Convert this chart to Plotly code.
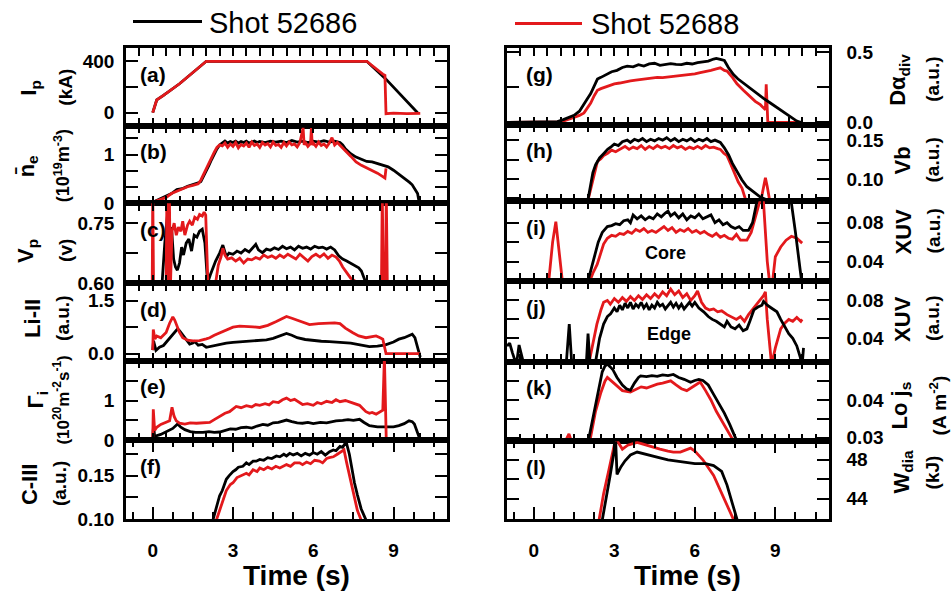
import plotly.graph_objects as go

# ---------------- data ----------------
# (a) plasma current Ip (kA)
ta_blk = [0, 0.15, 0.4, 1.0, 2.0, 8.0, 8.7, 9.9]
ia_blk = [0, 100, 135, 225, 400, 400, 265, 0]
ta_red = [0, 0.15, 0.4, 1.0, 2.0, 8.0, 8.6, 8.68, 8.72, 9.0, 9.5, 10.0]
ia_red = [0, 100, 135, 225, 400, 400, 300, 290, -8, -4, -8, -5]

# (b) line averaged density (1e19 m^-3)
tb_blk = [0.0, 0.1, 0.3, 0.5, 0.7, 0.9, 1.1, 1.3, 1.5, 1.7, 1.8, 1.9, 2.0, 2.1, 2.2, 2.3, 2.4, 2.5,
          2.6, 2.7, 2.8, 2.9, 3.0, 3.1, 3.2, 3.3, 3.4, 3.5, 3.6, 3.7, 3.8, 3.9, 4.0, 4.2, 4.4, 4.6,
          4.8, 5.0, 5.2, 5.4, 5.6, 5.8, 6.0, 6.2, 6.4, 6.6, 6.8, 7.0, 7.1, 7.2, 7.4, 7.6, 7.8, 8.0,
          8.2, 8.4, 8.6, 8.8, 9.0, 9.2, 9.4, 9.6, 9.7, 9.8, 9.9, 9.95, 10.0]
nb_blk = [0.02, 0.05, 0.1, 0.15, 0.2, 0.28, 0.3, 0.35, 0.38, 0.42, 0.45, 0.55, 0.65, 0.78, 0.9, 1.02, 1.12, 1.2,
          1.25, 1.28, 1.24, 1.27, 1.25, 1.28, 1.24, 1.27, 1.25, 1.28, 1.24, 1.26, 1.28, 1.25, 1.27, 1.25, 1.28, 1.26,
          1.28, 1.25, 1.29, 1.26, 1.28, 1.25, 1.28, 1.26, 1.29, 1.26, 1.28, 1.25, 1.2, 1.12, 1.02, 0.95, 0.9, 0.86,
          0.85, 0.82, 0.79, 0.75, 0.68, 0.6, 0.52, 0.43, 0.38, 0.3, 0.2, 0.05, 0.0]
tb_red = [0.0, 0.1, 0.3, 0.5, 0.7, 0.9, 1.1, 1.3, 1.5, 1.7, 1.8, 1.9, 2.0, 2.1, 2.2, 2.3, 2.4, 2.5,
          2.6, 2.7, 2.8, 2.9, 3.0, 3.1, 3.2, 3.3, 3.4, 3.5, 3.6, 3.7, 3.8, 3.9, 4.0, 4.1, 4.2, 4.3,
          4.4, 4.5, 4.6, 4.7, 4.8, 4.9, 5.0, 5.1, 5.2, 5.3, 5.4, 5.5, 5.62, 5.66, 5.7, 5.8, 5.9, 5.93,
          5.96, 6.0, 6.1, 6.2, 6.3, 6.4, 6.5, 6.6, 6.7, 6.8, 6.9, 7.0, 7.1, 7.2, 7.4, 7.6, 7.8, 8.0,
          8.2, 8.4, 8.6, 8.68, 8.72]
nb_red = [0.0, 0.04, 0.08, 0.12, 0.2, 0.25, 0.3, 0.34, 0.37, 0.4, 0.48, 0.6, 0.7, 0.82, 0.95, 1.05, 1.15, 1.2,
          1.18, 1.24, 1.15, 1.22, 1.17, 1.25, 1.14, 1.21, 1.18, 1.24, 1.15, 1.26, 1.19, 1.22, 1.15, 1.25, 1.2, 1.23,
          1.16, 1.26, 1.19, 1.21, 1.15, 1.25, 1.18, 1.26, 1.2, 1.22, 1.16, 1.25, 1.55, 1.2, 1.26, 1.17, 1.23, 1.55,
          1.2, 1.24, 1.17, 1.26, 1.19, 1.22, 1.16, 1.24, 1.35, 1.2, 1.25, 1.2, 1.15, 1.08, 0.97, 0.85, 0.78, 0.73,
          0.68, 0.62, 0.55, 0.52, 0.72]

# (c) Vp (V)
tc_blk = [0.35, 0.45, 0.55, 0.62, 0.7, 0.78, 0.85, 0.92, 1.0, 1.08, 1.15, 1.25, 1.35, 1.45, 1.55, 1.65, 1.75,
          1.85, 1.95, 2.05, 2.15, 2.25, 2.35, 2.5, 2.62, 2.75, 2.85, 3.0, 3.15, 3.3, 3.45, 3.6, 3.75, 3.85,
          3.95, 4.1, 4.25, 4.4, 4.55, 4.7, 4.85, 5.0, 5.15, 5.3, 5.45, 5.6, 5.75, 5.9, 6.05, 6.2, 6.35, 6.5,
          6.65, 6.8, 6.95, 7.1, 7.25, 7.4, 7.55, 7.7, 7.8, 7.9, 7.97]
vc_blk = [0.6, 0.7, 0.77, 0.7, 0.74, 0.66, 0.64, 0.632, 0.65, 0.69, 0.67, 0.7, 0.71, 0.68, 0.72, 0.715, 0.73,
          0.735, 0.7, 0.6, 0.62, 0.64, 0.655, 0.675, 0.695, 0.666, 0.675, 0.672, 0.68, 0.675, 0.684, 0.678, 0.69, 0.697,
          0.683, 0.676, 0.685, 0.682, 0.688, 0.684, 0.692, 0.686, 0.69, 0.683, 0.692, 0.687, 0.69, 0.685, 0.692, 0.688, 0.69, 0.685,
          0.69, 0.683, 0.668, 0.66, 0.655, 0.65, 0.645, 0.638, 0.63, 0.615, 0.6]
tc_red = [-0.05, -0.02, 0.0, 0.03, 0.5, 0.53, 0.57, 0.62, 0.66, 0.72, 0.8, 0.88, 0.96, 1.05, 1.12, 1.2, 1.3,
          1.38, 1.48, 1.57, 1.67, 1.75, 1.85, 1.92, 1.98, 2.06, 2.35, 2.45, 2.55, 2.62, 2.7, 2.8, 2.95, 3.1,
          3.25, 3.4, 3.55, 3.7, 3.85, 4.0, 4.15, 4.3, 4.45, 4.6, 4.75, 4.9, 5.05, 5.2, 5.35, 5.5, 5.65, 5.8,
          5.95, 6.1, 6.25, 6.4, 6.55, 6.7, 6.85, 6.98, 7.1, 7.25, 7.4, 7.55, 7.65, 8.55, 8.58, 8.62, 8.7,
          8.73, 8.77, 8.8]
vc_red = [0.59, 0.59, 0.83, 0.59, 0.59, 0.83, 0.59, 0.83, 0.59, 0.73, 0.75, 0.72, 0.74, 0.73, 0.755, 0.72, 0.745,
          0.755, 0.745, 0.765, 0.76, 0.772, 0.768, 0.778, 0.77, 0.6, 0.6, 0.645, 0.665, 0.687, 0.67, 0.66, 0.663, 0.655,
          0.662, 0.65, 0.66, 0.658, 0.664, 0.66, 0.67, 0.664, 0.668, 0.662, 0.67, 0.664, 0.672, 0.666, 0.66, 0.672, 0.664, 0.655,
          0.666, 0.672, 0.665, 0.673, 0.662, 0.67, 0.665, 0.655, 0.64, 0.625, 0.612, 0.605, 0.6, 0.59, 0.83, 0.59, 0.59,
          0.83, 0.59, 0.59]

# (d) Li-II (a.u.)
td_blk = [0.0, 0.03, 0.12, 0.25, 0.4, 0.6, 0.8, 0.93, 1.0, 1.12, 1.25, 1.38, 1.5, 1.57, 1.7, 1.85, 2.0, 2.25,
          2.5, 2.75, 3.0, 3.25, 3.5, 3.75, 4.0, 4.25, 4.5, 4.75, 5.0, 5.2, 5.4, 5.7, 6.0, 6.3, 6.6, 7.0, 7.4,
          7.8, 8.1, 8.4, 8.7, 9.0, 9.2, 9.4, 9.55, 9.7, 9.8, 9.9, 10.0]
ld_blk = [0.1, 0.36, 0.09, 0.18, 0.23, 0.41, 0.6, 0.7, 0.65, 0.54, 0.4, 0.27, 0.3, 0.34, 0.24, 0.26, 0.18, 0.22,
          0.27, 0.3, 0.32, 0.33, 0.34, 0.36, 0.37, 0.39, 0.43, 0.5, 0.57, 0.52, 0.45, 0.4, 0.37, 0.35, 0.34, 0.33, 0.3,
          0.24, 0.2, 0.21, 0.25, 0.33, 0.41, 0.45, 0.5, 0.55, 0.45, 0.2, -0.1]
td_red = [0.0, 0.02, 0.08, 0.15, 0.3, 0.5, 0.63, 0.75, 0.82, 0.9, 1.0, 1.12, 1.3, 1.5, 1.75, 2.0, 2.13, 2.3,
          2.5, 2.75, 3.0, 3.25, 3.5, 3.75, 4.0, 4.3, 4.6, 4.8, 5.0, 5.2, 5.4, 5.6, 5.86, 6.2, 6.5, 6.8, 7.0,
          7.2, 7.48, 7.7, 7.97, 8.2, 8.35, 8.5, 8.6, 8.72, 9.0, 9.5, 10.0]
ld_red = [0.1, 0.68, 0.41, 0.5, 0.45, 0.6, 0.86, 1.04, 0.95, 0.77, 0.6, 0.45, 0.38, 0.36, 0.37, 0.42, 0.45, 0.52,
          0.59, 0.68, 0.75, 0.78, 0.78, 0.76, 0.74, 0.8, 0.9, 0.98, 1.05, 1.0, 0.95, 0.88, 0.82, 0.85, 0.86, 0.87, 0.85,
          0.72, 0.59, 0.5, 0.45, 0.48, 0.5, 0.45, 0.41, 0.0, 0.0, 0.0, 0.0]

# (e) ion flux Gamma_i (1e20 m^-2 s^-1)
te_blk = [0.0, 0.03, 0.08, 0.15, 0.3, 0.45, 0.6, 0.75, 0.93, 1.05, 1.2, 1.4, 1.6, 1.88, 2.1, 2.3, 2.5, 2.7,
          2.9, 3.1, 3.3, 3.5, 3.7, 3.9, 4.12, 4.3, 4.5, 4.7, 4.85, 5.0, 5.2, 5.4, 5.6, 5.8, 6.0, 6.27, 6.5,
          6.7, 6.85, 7.1, 7.3, 7.5, 7.73, 7.9, 8.1, 8.4, 8.72, 9.0, 9.2, 9.4, 9.58, 9.7, 9.78, 9.9, 9.96]
ge_blk = [0.05, 0.37, 0.04, 0.12, 0.15, 0.2, 0.25, 0.3, 0.41, 0.33, 0.27, 0.22, 0.2, 0.2, 0.22, 0.2, 0.21, 0.26,
          0.29, 0.28, 0.32, 0.33, 0.31, 0.36, 0.4, 0.38, 0.44, 0.45, 0.48, 0.51, 0.47, 0.44, 0.43, 0.45, 0.42, 0.45, 0.44,
          0.47, 0.49, 0.5, 0.52, 0.5, 0.53, 0.45, 0.37, 0.34, 0.33, 0.34, 0.37, 0.42, 0.49, 0.47, 0.41, 0.2, 0.08]
te_red = [0.0, 0.02, 0.07, 0.15, 0.3, 0.5, 0.63, 0.72, 0.8, 0.88, 1.0, 1.2, 1.4, 1.63, 1.9, 2.13, 2.3, 2.5,
          2.7, 2.87, 3.0, 3.12, 3.3, 3.5, 3.7, 3.85, 4.0, 4.2, 4.35, 4.5, 4.7, 4.85, 5.0, 5.15, 5.3, 5.45, 5.6,
          5.78, 6.0, 6.15, 6.3, 6.5, 6.7, 6.85, 7.0, 7.2, 7.36, 7.55, 7.73, 7.85, 7.97, 8.1, 8.2, 8.35, 8.5,
          8.6, 8.66, 8.7, 8.73, 9.0, 9.5, 9.85]
ge_red = [0.05, 0.78, 0.25, 0.33, 0.4, 0.45, 0.49, 0.83, 0.6, 0.49, 0.43, 0.41, 0.44, 0.43, 0.45, 0.45, 0.52, 0.6,
          0.68, 0.72, 0.8, 0.85, 0.82, 0.87, 0.84, 0.9, 0.88, 0.92, 0.89, 0.97, 0.95, 1.02, 1.06, 1.0, 1.03, 0.96, 0.9,
          0.92, 0.88, 0.95, 0.92, 0.98, 0.95, 1.02, 0.97, 1.0, 0.96, 0.92, 0.88, 0.8, 0.72, 0.68, 0.7, 0.66, 0.72,
          0.76, 2.1, 0.6, 0.0, -0.01, -0.01, -0.01]

# (f) C-III (a.u.)
tf_blk = [2.25, 2.4, 2.5, 2.6, 2.75, 2.85, 3.0, 3.1, 3.2, 3.37, 3.5, 3.6, 3.75, 3.87, 4.0, 4.15, 4.3, 4.45,
          4.62, 4.75, 4.9, 5.0, 5.12, 5.25, 5.4, 5.55, 5.7, 5.86, 6.0, 6.15, 6.3, 6.45, 6.61, 6.75, 6.85, 7.0,
          7.1, 7.2, 7.25, 7.35, 7.45, 7.54, 7.65, 7.79, 7.9, 7.97]
cf_blk = [0.099, 0.115, 0.127, 0.133, 0.146, 0.15, 0.155, 0.157, 0.16, 0.161, 0.165, 0.163, 0.167, 0.167, 0.169, 0.168, 0.171, 0.17,
          0.173, 0.172, 0.175, 0.173, 0.176, 0.174, 0.176, 0.173, 0.176, 0.174, 0.177, 0.175, 0.178, 0.174, 0.178, 0.18, 0.179, 0.184,
          0.183, 0.188, 0.187, 0.175, 0.155, 0.142, 0.128, 0.112, 0.104, 0.099]
tf_red = [2.38, 2.5, 2.62, 2.75, 2.9, 3.0, 3.15, 3.3, 3.5, 3.6, 3.75, 3.9, 4.0, 4.15, 4.3, 4.45, 4.6, 4.75,
          4.86, 5.0, 5.15, 5.3, 5.49, 5.6, 5.75, 5.9, 6.05, 6.23, 6.35, 6.5, 6.6, 6.75, 6.9, 7.0, 7.1, 7.15,
          7.25, 7.41, 7.55, 7.65, 7.79]
cf_red = [0.099, 0.11, 0.123, 0.133, 0.14, 0.142, 0.148, 0.15, 0.153, 0.151, 0.157, 0.155, 0.159, 0.157, 0.16, 0.158, 0.161, 0.159,
          0.161, 0.163, 0.161, 0.165, 0.165, 0.163, 0.166, 0.164, 0.168, 0.167, 0.165, 0.17, 0.171, 0.172, 0.175, 0.177, 0.178, 0.18,
          0.165, 0.142, 0.122, 0.11, 0.099]

# (g) D-alpha divertor (a.u.)
tg_blk = [-1.0, 0.0, 0.5, 0.88, 1.1, 1.25, 1.5, 1.7, 1.87, 2.0, 2.12, 2.25, 2.37, 2.5, 2.74, 2.9, 3.1, 3.3,
          3.48, 3.7, 3.9, 4.1, 4.3, 4.5, 4.7, 4.9, 5.1, 5.3, 5.5, 5.7, 5.9, 6.1, 6.3, 6.5, 6.7, 6.8, 6.95,
          7.1, 7.25, 7.44, 7.6, 7.8, 7.94, 8.2, 8.4, 8.56, 8.8, 9.0, 9.18, 9.4, 9.6, 9.8, 9.95]
dg_blk = [0.0, 0.002, 0.003, 0.006, 0.02, 0.03, 0.05, 0.08, 0.137, 0.17, 0.205, 0.26, 0.308, 0.32, 0.342, 0.36, 0.37, 0.39,
          0.4, 0.395, 0.41, 0.4, 0.415, 0.42, 0.405, 0.41, 0.418, 0.412, 0.41, 0.42, 0.415, 0.425, 0.43, 0.435, 0.45, 0.455, 0.448,
          0.44, 0.39, 0.34, 0.31, 0.28, 0.263, 0.225, 0.195, 0.171, 0.14, 0.115, 0.09, 0.06, 0.035, 0.01, 0.0]
tg_red = [-1.0, 0.0, 0.5, 0.88, 1.1, 1.25, 1.5, 1.7, 1.87, 2.0, 2.12, 2.25, 2.37, 2.5, 2.7, 2.85, 3.0, 3.2,
          3.4, 3.6, 3.8, 4.0, 4.2, 4.4, 4.6, 4.8, 5.0, 5.2, 5.47, 5.7, 5.9, 6.0, 6.2, 6.4, 6.6, 6.8, 6.95,
          7.1, 7.2, 7.4, 7.57, 7.8, 8.07, 8.25, 8.44, 8.6, 8.63, 8.66, 8.72, 9.0, 9.5, 9.99]
dg_red = [0.0, 0.0, 0.002, 0.004, 0.01, 0.02, 0.04, 0.05, 0.068, 0.1, 0.137, 0.19, 0.228, 0.24, 0.255, 0.262, 0.274, 0.28,
          0.29, 0.295, 0.3, 0.305, 0.308, 0.31, 0.32, 0.318, 0.322, 0.328, 0.331, 0.335, 0.34, 0.345, 0.354, 0.36, 0.37, 0.38, 0.388,
          0.37, 0.365, 0.32, 0.274, 0.23, 0.183, 0.15, 0.126, 0.095, 0.09, 0.27, 0.0, 0.0, 0.0, 0.0]

# (h) Vb (a.u.)
th_blk = [2.0, 2.1, 2.2, 2.3, 2.45, 2.6, 2.75, 2.9, 3.0, 3.15, 3.3, 3.48, 3.6, 3.75, 3.9, 4.05, 4.2, 4.35,
          4.5, 4.65, 4.8, 4.95, 5.1, 5.25, 5.4, 5.55, 5.7, 5.85, 6.0, 6.15, 6.3, 6.45, 6.6, 6.75, 6.95, 7.1,
          7.26, 7.4, 7.57, 7.75, 7.94, 8.2, 8.44, 8.7, 8.93]
vh_blk = [0.07, 0.09, 0.108, 0.118, 0.127, 0.1325, 0.138, 0.142, 0.145, 0.143, 0.148, 0.15, 0.147, 0.151, 0.149, 0.152, 0.148, 0.151,
          0.149, 0.152, 0.15, 0.153, 0.149, 0.152, 0.148, 0.151, 0.149, 0.152, 0.148, 0.151, 0.149, 0.152, 0.148, 0.15, 0.147, 0.14,
          0.1308, 0.12, 0.11, 0.099, 0.09, 0.083, 0.0767, 0.073, 0.07]
th_red = [2.0, 2.1, 2.2, 2.37, 2.5, 2.6, 2.75, 2.9, 3.05, 3.23, 3.4, 3.55, 3.7, 3.85, 4.0, 4.15, 4.3, 4.45,
          4.6, 4.75, 4.9, 5.05, 5.2, 5.35, 5.5, 5.65, 5.8, 5.95, 6.1, 6.25, 6.4, 6.55, 6.7, 6.85, 6.95, 7.08,
          7.2, 7.35, 7.5, 7.62, 7.76, 7.94, 8.44, 8.55, 8.63, 8.7, 8.81]
vh_red = [0.07, 0.085, 0.1, 0.1225, 0.126, 0.13, 0.133, 0.137, 0.135, 0.139, 0.142, 0.138, 0.141, 0.139, 0.143, 0.138, 0.142, 0.139,
          0.143, 0.14, 0.142, 0.139, 0.143, 0.14, 0.142, 0.138, 0.141, 0.139, 0.142, 0.139, 0.143, 0.14, 0.141, 0.139, 0.138, 0.133,
          0.13, 0.118, 0.105, 0.096, 0.088, 0.068, 0.068, 0.09, 0.1016, 0.09, 0.068]

# (i) XUV core (a.u.)
ti_blk = [2.0, 2.2, 2.4, 2.55, 2.74, 2.9, 3.05, 3.2, 3.35, 3.5, 3.6, 3.7, 3.85, 4.0, 4.15, 4.3, 4.45, 4.6,
          4.75, 4.9, 5.0, 5.1, 5.25, 5.4, 5.55, 5.7, 5.85, 6.0, 6.15, 6.3, 6.45, 6.6, 6.75, 6.9, 7.05, 7.2,
          7.35, 7.5, 7.65, 7.8, 8.0, 8.15, 8.3, 8.45, 9.5, 9.6, 9.75, 9.9, 10.0]
xi_blk = [0.018, 0.04, 0.06, 0.07, 0.076, 0.077, 0.079, 0.078, 0.082, 0.083, 0.08, 0.088, 0.084, 0.087, 0.083, 0.086, 0.084, 0.089,
          0.086, 0.09, 0.092, 0.087, 0.09, 0.085, 0.089, 0.083, 0.087, 0.085, 0.089, 0.084, 0.086, 0.088, 0.08, 0.083, 0.078, 0.08,
          0.076, 0.074, 0.076, 0.072, 0.072, 0.08, 0.1, 0.115, 0.115, 0.1, 0.07, 0.04, 0.015]
ti_red = [0.55, 0.7, 0.82, 0.95, 1.07, 2.06, 2.2, 2.36, 2.5, 2.6, 2.74, 2.9, 3.05, 3.2, 3.35, 3.5, 3.65, 3.8,
          3.95, 4.1, 4.25, 4.4, 4.55, 4.7, 4.85, 5.0, 5.15, 5.3, 5.45, 5.6, 5.75, 5.9, 6.05, 6.2, 6.35, 6.5,
          6.65, 6.8, 6.95, 7.1, 7.25, 7.4, 7.55, 7.7, 7.94, 8.1, 8.3, 8.45, 8.55, 8.7, 8.8, 8.9, 9.0, 9.2,
          9.4, 9.6, 9.8, 10.0]
xi_red = [0.018, 0.06, 0.081, 0.05, 0.018, 0.018, 0.028, 0.037, 0.05, 0.058, 0.064, 0.067, 0.066, 0.069, 0.068, 0.071, 0.069, 0.073,
          0.071, 0.074, 0.07, 0.072, 0.07, 0.073, 0.076, 0.072, 0.075, 0.07, 0.073, 0.071, 0.074, 0.07, 0.072, 0.069, 0.071, 0.068,
          0.066, 0.069, 0.065, 0.067, 0.064, 0.063, 0.068, 0.062, 0.062, 0.07, 0.088, 0.105, 0.105, 0.04, 0.015, 0.02, 0.045, 0.055,
          0.062, 0.066, 0.064, 0.059]

# (j) XUV edge (a.u.)
tj_blk = [-1.0, -0.9, -0.8, -0.65, -0.55, -0.45, -0.35, 1.2, 1.32, 1.42, 1.95, 2.02, 2.1, 2.3, 2.45, 2.6, 2.74, 2.86,
          3.0, 3.1, 3.2, 3.3, 3.4, 3.5, 3.6, 3.7, 3.8, 3.9, 4.0, 4.1, 4.2, 4.3, 4.4, 4.5, 4.6, 4.7, 4.8, 4.9,
          5.0, 5.1, 5.2, 5.3, 5.4, 5.5, 5.6, 5.7, 5.8, 5.9, 6.0, 6.15, 6.33, 6.5, 6.65, 6.8, 6.95, 7.1, 7.2,
          7.35, 7.5, 7.65, 7.8, 7.94, 8.05, 8.2, 8.35, 8.5, 8.56, 8.7, 8.85, 9.06, 9.2, 9.35, 9.5, 9.65, 9.8,
          9.93, 10.0, 10.05]
xj_blk = [0.032, 0.035, 0.025, 0.012, 0.033, 0.02, 0.01, 0.01, 0.055, 0.01, 0.01, 0.045, 0.01, 0.015, 0.04, 0.055, 0.063, 0.066,
          0.072, 0.068, 0.075, 0.07, 0.077, 0.072, 0.078, 0.071, 0.076, 0.073, 0.078, 0.072, 0.076, 0.07, 0.075, 0.072, 0.078, 0.074, 0.076, 0.071,
          0.075, 0.078, 0.073, 0.077, 0.072, 0.076, 0.071, 0.075, 0.078, 0.074, 0.078, 0.072, 0.068, 0.063, 0.06, 0.058, 0.055, 0.052, 0.058,
          0.052, 0.05, 0.054, 0.048, 0.05, 0.058, 0.07, 0.073, 0.075, 0.079, 0.075, 0.072, 0.068, 0.06, 0.052, 0.045, 0.04, 0.032,
          0.02, 0.012, 0.03]
tj_red = [2.06, 2.2, 2.35, 2.5, 2.6, 2.74, 2.85, 3.0, 3.15, 3.3, 3.45, 3.6, 3.75, 3.9, 4.05, 4.2, 4.35, 4.5,
          4.65, 4.8, 4.95, 5.1, 5.25, 5.4, 5.55, 5.7, 5.85, 6.0, 6.1, 6.25, 6.4, 6.55, 6.7, 6.85, 7.0, 7.2,
          7.4, 7.55, 7.7, 7.85, 8.0, 8.2, 8.4, 8.56, 8.63, 8.7, 8.8, 8.86, 9.0, 9.2, 9.35, 9.5, 9.65, 9.8,
          9.95, 10.0]
xj_red = [0.015, 0.035, 0.055, 0.07, 0.078, 0.08, 0.076, 0.082, 0.078, 0.083, 0.079, 0.084, 0.08, 0.085, 0.081, 0.086, 0.082, 0.087,
          0.083, 0.089, 0.085, 0.092, 0.086, 0.09, 0.083, 0.087, 0.08, 0.085, 0.09, 0.078, 0.072, 0.07, 0.071, 0.068, 0.069, 0.065,
          0.062, 0.06, 0.063, 0.058, 0.065, 0.072, 0.08, 0.085, 0.089, 0.06, 0.03, 0.012, 0.03, 0.05, 0.056, 0.06, 0.058, 0.062,
          0.058, 0.06]

# (k) Langmuir probe j_s (A m^-2)
tk_blk = [2.0, 2.2, 2.4, 2.55, 2.65, 2.74, 2.85, 2.95, 3.1, 3.3, 3.45, 3.6, 3.75, 3.9, 3.98, 4.2, 4.4, 4.6,
          4.8, 5.0, 5.2, 5.4, 5.6, 5.84, 6.0, 6.15, 6.3, 6.5, 6.7, 6.9, 7.1, 7.3, 7.5, 7.57]
jk_blk = [0.028, 0.035, 0.042, 0.0475, 0.049, 0.0496, 0.0488, 0.048, 0.046, 0.044, 0.043, 0.0426, 0.0445, 0.046, 0.0464, 0.0462, 0.0465, 0.0463,
          0.0467, 0.0465, 0.0468, 0.046, 0.0455, 0.0447, 0.0452, 0.0455, 0.0452, 0.044, 0.0415, 0.039, 0.0365, 0.0335, 0.0305, 0.029]
tk_red = [1.1, 1.2, 1.31, 1.4, 1.5, 2.06, 2.3, 2.5, 2.65, 2.74, 2.9, 3.1, 3.3, 3.6, 3.8, 4.0, 4.2, 4.4,
          4.6, 4.8, 5.0, 5.1, 5.3, 5.5, 5.7, 5.9, 6.1, 6.2, 6.4, 6.6, 6.8, 7.0, 7.2, 7.45]
jk_red = [0.028, 0.0295, 0.031, 0.029, 0.028, 0.028, 0.037, 0.042, 0.045, 0.046, 0.045, 0.0435, 0.0425, 0.0421, 0.0428, 0.0435, 0.0432, 0.0438,
          0.0442, 0.0445, 0.0448, 0.0451, 0.044, 0.043, 0.0425, 0.0435, 0.0445, 0.0448, 0.0425, 0.04, 0.037, 0.0345, 0.032, 0.029]

# (l) diamagnetic energy W_dia (kJ)
tl_blk = [2.55, 2.7, 2.85, 3.0, 3.05, 3.1, 3.25, 3.4, 3.6, 3.85, 4.1, 4.4, 4.7, 5.0, 5.3, 5.7, 6.0, 6.4,
          6.7, 7.0, 7.2, 7.4, 7.58]
wl_blk = [41.8, 44.0, 46.5, 49.0, 49.9, 46.5, 47.3, 47.9, 48.5, 48.8, 48.6, 48.4, 48.2, 48.0, 47.9, 47.7, 47.6, 47.6,
          47.4, 46.8, 45.4, 43.5, 41.8]
tl_red = [2.43, 2.6, 2.8, 3.0, 3.05, 3.3, 3.5, 3.85, 4.1, 4.4, 4.7, 5.0, 5.2, 5.46, 5.84, 6.0, 6.3, 6.7,
          7.0, 7.2, 7.45]
wl_red = [41.8, 44.5, 47.0, 49.5, 50.2, 49.1, 49.5, 49.8, 49.6, 49.3, 49.1, 48.9, 48.8, 48.8, 49.2, 48.9, 48.0, 46.4,
          44.6, 43.3, 41.8]

panel_letters = ["(a)", "(b)", "(c)", "(d)", "(e)", "(f)", "(g)", "(h)", "(i)", "(j)", "(k)", "(l)"]
x_ticks_bottom = [0, 3, 6, 9]
legend_names = ["Shot 52686", "Shot 52688"]

# ---------------- layout geometry ----------------
W, H = 952, 602
FONT = "Liberation Sans, Arial, sans-serif"
BLACK = "#000000"
RED = "#e3191c"
LEFT = (126, 447)
RIGHT = (507, 829)
ROWS_L = [(43, 123), (123, 203), (203, 285), (285, 365), (365, 447), (447, 528)]
ROWS_R = [(43, 122), (122, 201), (201, 283), (283, 366), (366, 448), (448, 528)]

panels = [
    # left column
    dict(t=(ta_blk, ia_blk, ta_red, ia_red), yr=[-100, 505], tv=[0, 200, 400], tt=["0", "", "400"],
         t1="I<sub>p</sub>", t2="(kA)", tx=(30, 66), ty=84, s2=19),
    dict(t=(tb_blk, nb_blk, tb_red, nb_red), yr=[0, 1.6], tv=[0, 1/3, 2/3, 1, 4/3], tt=["0", "", "", "1", ""],
         t1="n\u0304<sub>e</sub>", t2="(10<sup>19</sup>m<sup>-3</sup>)", tx=(28, 62), ty=165, s2=18),
    dict(t=(tc_blk, vc_blk, tc_red, vc_red), yr=[0.6, 0.8], tv=[0.6, 0.675, 0.75], tt=["0.60", "", "0.75"],
         t1="V<sub>p</sub>", t2="(v)", tx=(27, 66), ty=252, s2=19),
    dict(t=(td_blk, ld_blk, td_red, ld_red), yr=[-0.2, 2.0], tv=[0, 0.75, 1.5], tt=["0.0", "", "1.5"],
         t1="Li-II", t2="(a.u.)", tx=(33, 63), ty=322, s2=19),
    dict(t=(te_blk, ge_blk, te_red, ge_red), yr=[0, 2.0], tv=[0, 0.5, 1, 1.5], tt=["0", "", "1", ""],
         t1="\u0393<sub>i</sub>", t2="(10<sup>20</sup>m<sup>-2</sup>s<sup>-1</sup>)", tx=(37, 61), ty=405, s2=17),
    dict(t=(tf_blk, cf_blk, tf_red, cf_red), yr=[0.10, 0.191], tv=[0.10, 0.125, 0.15, 0.175], tt=["0.10", "", "0.15", ""],
         t1="C-III", t2="(a.u.)", tx=(29, 59), ty=492, s2=19),
    # right column
    dict(t=(tg_blk, dg_blk, tg_red, dg_red), yr=[-0.015, 0.53], tv=[0, 0.25, 0.5], tt=["0.0", "", "0.5"],
         t1="D\u03b1<sub>div</sub>", t2="(a.u.)", tx=(899, 933), ty=76, s2=19),
    dict(t=(th_blk, vh_blk, th_red, vh_red), yr=[0.0712, 0.17], tv=[0.075, 0.10, 0.125, 0.15], tt=["", "0.10", "", "0.15"],
         t1="Vb", t2="(a.u.)", tx=(903, 933), ty=159, s2=19),
    dict(t=(ti_blk, xi_blk, ti_red, xi_red), yr=[0.02, 0.102], tv=[0.04, 0.06, 0.08], tt=["0.04", "", "0.08"],
         t1="XUV", t2="(a.u.)", tx=(903, 933), ty=232, s2=19),
    dict(t=(tj_blk, xj_blk, tj_red, xj_red), yr=[0.0154, 0.1005], tv=[0.04, 0.06, 0.08], tt=["0.04", "", "0.08"],
         t1="XUV", t2="(a.u.)", tx=(903, 933), ty=322, s2=19),
    dict(t=(tk_blk, jk_blk, tk_red, jk_red), yr=[0.029, 0.0502], tv=[0.03, 0.035, 0.04, 0.045], tt=["0.03", "", "0.04", ""],
         t1="Lo j<sub>s</sub>", t2="(A m<sup>-2</sup>)", tx=(901, 938), ty=411, s2=19),
    dict(t=(tl_blk, wl_blk, tl_red, wl_red), yr=[41.9, 49.9], tv=[44, 46, 48], tt=["44", "", "48"],
         t1="W<sub>dia</sub>", t2="(kJ)", tx=(903, 932), ty=480, s2=19),
]

fig = go.Figure()
annotations = []
layout = {}

for i, p in enumerate(panels):
    n = i + 1
    left_col = i < 6
    cx = LEFT if left_col else RIGHT
    top, bot = (ROWS_L if left_col else ROWS_R)[i % 6]
    bottom_row = (i % 6) == 5
    xs = "" if n == 1 else str(n)
    xdom = [cx[0] / W, cx[1] / W]
    ydom = [1 - bot / H, 1 - top / H]

    xa = dict(domain=xdom, anchor="y" + xs, range=[-1, 11], showline=True, mirror="ticks",
              linecolor=BLACK, linewidth=2.5, ticks="inside", tickcolor=BLACK, tickwidth=2,
              showgrid=False, zeroline=False, fixedrange=True)
    if bottom_row:
        xa.update(tickmode="array", tickvals=x_ticks_bottom, ticklen=12, showticklabels=True,
                  tickfont=dict(family=FONT, size=19, color=BLACK, weight="bold"),
                  ticklabelstandoff=12,
                  minor=dict(tickmode="linear", tick0=0, dtick=0.75, ticks="inside", ticklen=7,
                             tickwidth=2, tickcolor=BLACK, showgrid=False))
    else:
        xa.update(tickmode="linear", tick0=0, dtick=0.5, ticklen=8, showticklabels=False)

    ya = dict(domain=ydom, anchor="x" + xs, range=p["yr"], showline=True, mirror="ticks",
              linecolor=BLACK, linewidth=2.5, ticks="inside", tickcolor=BLACK, tickwidth=2, ticklen=12,
              tickmode="array", tickvals=p["tv"], ticktext=p["tt"],
              tickfont=dict(family=FONT, size=19, color=BLACK, weight="bold"),
              side="left" if left_col else "right",
              ticklabelstandoff=5 if left_col else 11,
              showgrid=False, zeroline=False, fixedrange=True)
    layout["xaxis" + xs] = xa
    layout["yaxis" + xs] = ya

    tb, vb, tr, vr = p["t"]
    blk = go.Scatter(x=tb, y=vb, mode="lines", line=dict(color=BLACK, width=2.8),
                     xaxis="x" + xs, yaxis="y" + xs, showlegend=False, hoverinfo="skip")
    red = go.Scatter(x=tr, y=vr, mode="lines", line=dict(color=RED, width=2.8),
                     xaxis="x" + xs, yaxis="y" + xs, showlegend=False, hoverinfo="skip")
    if left_col:
        fig.add_trace(blk); fig.add_trace(red)
    else:
        fig.add_trace(red); fig.add_trace(blk)

    # panel letter
    annotations.append(dict(text=panel_letters[i], xref="paper", yref="paper",
                            x=(cx[0] + (12 if left_col else 17)) / W, y=1 - (top + 27) / H,
                            xanchor="left", yanchor="middle", showarrow=False,
                            font=dict(family=FONT, size=21, color=BLACK, weight="bold")))
    # y titles (two rotated lines)
    annotations.append(dict(text=p["t1"], xref="paper", yref="paper", x=p["tx"][0] / W, y=1 - p["ty"] / H,
                            xanchor="center", yanchor="middle", textangle=-90, showarrow=False,
                            font=dict(family=FONT, size=22, color=BLACK, weight="bold")))
    annotations.append(dict(text=p["t2"], xref="paper", yref="paper", x=p["tx"][1] / W, y=1 - p["ty"] / H,
                            xanchor="center", yanchor="middle", textangle=-90, showarrow=False,
                            font=dict(family=FONT, size=p["s2"], color=BLACK, weight="bold")))

# Core / Edge labels
annotations.append(dict(text="Core", xref="paper", yref="paper", x=665 / W, y=1 - 254 / H,
                        xanchor="center", yanchor="middle", showarrow=False,
                        font=dict(family=FONT, size=18, color=BLACK, weight="bold")))
annotations.append(dict(text="Edge", xref="paper", yref="paper", x=669 / W, y=1 - 338 / H,
                        xanchor="center", yanchor="middle", showarrow=False,
                        font=dict(family=FONT, size=18, color=BLACK, weight="bold")))
# x titles
for xc in (296, 687):
    annotations.append(dict(text="Time (s)", xref="paper", yref="paper", x=xc / W, y=1 - 586 / H,
                            xanchor="center", yanchor="middle", showarrow=False,
                            font=dict(family=FONT, size=28, color=BLACK, weight="bold")))
# legend
shapes = [
    dict(type="line", xref="paper", yref="paper", x0=133 / W, x1=202 / W, y0=1 - 16 / H, y1=1 - 16 / H,
         line=dict(color=BLACK, width=3)),
    dict(type="line", xref="paper", yref="paper", x0=515 / W, x1=582 / W, y0=1 - 18 / H, y1=1 - 18 / H,
         line=dict(color=RED, width=3)),
]
annotations.append(dict(text=legend_names[0], xref="paper", yref="paper", x=207 / W, y=1 - 17 / H,
                        xanchor="left", yanchor="middle", showarrow=False,
                        font=dict(family=FONT, size=29, color=BLACK)))
annotations.append(dict(text=legend_names[1], xref="paper", yref="paper", x=589 / W, y=1 - 19 / H,
                        xanchor="left", yanchor="middle", showarrow=False,
                        font=dict(family=FONT, size=29, color=BLACK)))

fig.update_layout(width=W, height=H, margin=dict(l=0, r=0, t=0, b=0),
                  paper_bgcolor="white", plot_bgcolor="white",
                  annotations=annotations, shapes=shapes, showlegend=False, **layout)

fig.write_html("out.html", config={"displayModeBar": False})
